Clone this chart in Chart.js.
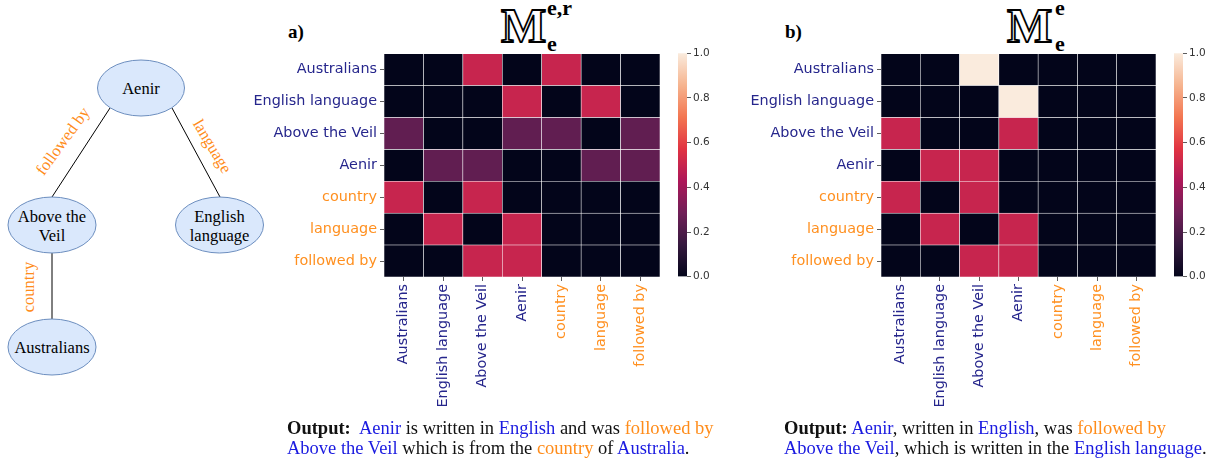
<!DOCTYPE html>
<html>
<head>
<meta charset="utf-8">
<script src="https://cdn.jsdelivr.net/npm/chart.js@4"></script>
<style>
  body { margin: 0; background: #fff; width: 1213px; height: 459px; position: relative; overflow: hidden; }
  canvas { position: absolute; }
  .serif { font-family: "Liberation Serif", "Times New Roman", serif; position: absolute; white-space: nowrap; }
  .lbl { font-weight: bold; font-size: 19px; line-height: 19px; }
  .bb { font-weight: bold; font-size: 48px; line-height: 48px; color: #fff; -webkit-text-stroke: 1.8px #000; }
  .idx { font-weight: bold; font-size: 22px; line-height: 22px; }
  .out { font-size: 18.5px; line-height: 20px; color: #111; }
  .b { color: #1a1ae0; }
  .o { color: #ff8c1a; }
</style>
</head>
<body>

<!-- knowledge graph sketch -->
<svg width="280" height="400" style="position:absolute;left:0;top:0" font-family="Liberation Serif, serif">
  <g stroke="#000" stroke-width="1">
    <line x1="110" y1="108" x2="52" y2="197"/>
    <line x1="172" y1="108" x2="220" y2="197"/>
    <line x1="52" y1="253" x2="52" y2="319"/>
  </g>
  <g fill="#dae8fc" stroke="#6c8ebf" stroke-width="1">
    <ellipse cx="141" cy="88" rx="43.5" ry="28"/>
    <ellipse cx="52" cy="225" rx="44" ry="28"/>
    <ellipse cx="219.5" cy="225" rx="44" ry="28"/>
    <ellipse cx="52" cy="347" rx="44" ry="28"/>
  </g>
  <g font-size="16.5" text-anchor="middle" fill="#000">
    <text x="141" y="94">Aenir</text>
    <text x="52" y="222">Above the</text>
    <text x="52" y="241">Veil</text>
    <text x="219.5" y="222">English</text>
    <text x="219.5" y="241">language</text>
    <text x="52" y="353">Australians</text>
  </g>
  <g font-size="16.5" text-anchor="middle" fill="#ff8c1a" dominant-baseline="middle">
    <text transform="translate(64,142) rotate(-54)">followed by</text>
    <text transform="translate(211,147) rotate(59)">language</text>
    <text transform="translate(30,287) rotate(-90)">country</text>
  </g>
</svg>

<!-- panel titles -->
<div class="serif lbl" style="left:288px;top:22px">a)</div>
<div class="serif bb" style="left:501px;top:2px">M</div>
<div class="serif idx" style="left:547px;top:-3px">e,r</div>
<div class="serif idx" style="left:547px;top:33px">e</div>

<div class="serif lbl" style="left:785px;top:22px">b)</div>
<div class="serif bb" style="left:1007px;top:2px">M</div>
<div class="serif idx" style="left:1055px;top:-3px">e</div>
<div class="serif idx" style="left:1055px;top:33px">e</div>

<canvas id="heatA" width="430" height="383" style="left:240px;top:42px"></canvas>
<canvas id="cbarA" width="50" height="240" style="left:678px;top:45px"></canvas>
<canvas id="heatB" width="426" height="383" style="left:740px;top:42px"></canvas>
<canvas id="cbarB" width="50" height="240" style="left:1174px;top:45px"></canvas>

<div class="serif out" style="left:287px;top:418px"><b>Output:</b>&nbsp; <span class="b">Aenir</span> is written in <span class="b">English</span> and was <span class="o">followed by</span><br><span class="b">Above the Veil</span> which is from the <span class="o">country</span> of <span class="b">Australia</span>.</div>
<div class="serif out" style="left:784px;top:418px"><b>Output:</b> <span class="b">Aenir</span>, written in <span class="b">English</span>, was <span class="o">followed by</span><br><span class="b">Above the Veil</span>, which is written in the <span class="b">English language</span>.</div>

<script>
// Matrix labels (same order on both axes); first four are entities, rest relations
const columns = ['Australians', 'English language', 'Above the Veil', 'Aenir', 'country', 'language', 'followed by'];
const rows = ['Australians', 'English language', 'Above the Veil', 'Aenir', 'country', 'language', 'followed by'];
const entityCount = 4;

// a) M_e^{e,r}, one row per entry of rows
const valuesA = [
    [0, 0, 0.5, 0, 0.5, 0, 0],
    [0, 0, 0, 0.5, 0, 0.5, 0],
    [0.25, 0, 0, 0.25, 0.25, 0, 0.25],
    [0, 0.25, 0.25, 0, 0, 0.25, 0.25],
    [0.5, 0, 0.5, 0, 0, 0, 0],
    [0, 0.5, 0, 0.5, 0, 0, 0],
    [0, 0, 0.5, 0.5, 0, 0, 0]
];

// b) M_e^e
const valuesB = [
    [0, 0, 1, 0, 0, 0, 0],
    [0, 0, 0, 1, 0, 0, 0],
    [0.5, 0, 0, 0.5, 0, 0, 0],
    [0, 0.5, 0.5, 0, 0, 0, 0],
    [0.5, 0, 0.5, 0, 0, 0, 0],
    [0, 0.5, 0, 0.5, 0, 0, 0],
    [0, 0, 0.5, 0.5, 0, 0, 0]
];

const cbarRange = [0, 1];
const cbarTicks = [0, 0.2, 0.4, 0.6, 0.8, 1.0];

const entityColor = '#26268c';
const relationColor = '#ff9020';

// seaborn "rocket" colormap, sampled stops
const rocketStops = [
    [0, '#03051a'], [1 / 7, '#35193e'], [2 / 7, '#701f57'], [3 / 7, '#ad1759'],
    [4 / 7, '#e13342'], [5 / 7, '#f37651'], [6 / 7, '#f6b48f'], [1, '#faebdd']
];

function hexToRgb(h) {
    return [parseInt(h.slice(1, 3), 16), parseInt(h.slice(3, 5), 16), parseInt(h.slice(5, 7), 16)];
}

function rocket(v) {
    for (let i = 1; i < rocketStops.length; i++) {
        const [p1, c1] = rocketStops[i];
        const [p0, c0] = rocketStops[i - 1];
        if (v <= p1) {
            const t = (v - p0) / (p1 - p0);
            const a = hexToRgb(c0), b = hexToRgb(c1);
            const c = a.map((x, k) => Math.round(x + (b[k] - x) * t));
            return `rgb(${c[0]}, ${c[1]}, ${c[2]})`;
        }
    }
    return rocketStops[rocketStops.length - 1][1];
}

Chart.defaults.font.family = "'DejaVu Sans', sans-serif";
Chart.defaults.animation = false;

const tickGrid = {
    display: true,
    drawOnChartArea: false,
    drawTicks: true,
    tickLength: 4,
    tickWidth: 0.8,
    color: '#333',
    offset: false
};

function labelColor(i) {
    return i < entityCount ? entityColor : relationColor;
}

// Heatmap as stacked bars: each cell is one unit tall, coloured by its value
function drawHeatmap(id, matrix, yWidth) {
    const datasets = rows.map((row, r) => ({
        label: row,
        data: columns.map(() => 1),
        backgroundColor: matrix[r].map(rocket),
        borderColor: 'rgba(255, 255, 255, 0.85)',
        borderWidth: 0.6,
        borderSkipped: false,
        barPercentage: 1,
        categoryPercentage: 1
    })).reverse();

    new Chart(document.getElementById(id), {
        type: 'bar',
        data: { labels: columns, datasets: datasets },
        options: {
            responsive: false,
            layout: { padding: { top: 8, right: 10, left: 0, bottom: 0 } },
            plugins: { legend: { display: false }, tooltip: { enabled: false } },
            scales: {
                x: {
                    stacked: true,
                    grid: tickGrid,
                    border: { display: false },
                    ticks: {
                        autoSkip: false,
                        minRotation: 90,
                        maxRotation: 90,
                        padding: 3,
                        font: { size: 14.4 },
                        color: ctx => labelColor(ctx.index)
                    },
                    afterFit: scale => { scale.height = 148; }
                },
                y: {
                    type: 'linear',
                    stacked: true,
                    min: 0,
                    max: rows.length,
                    grid: tickGrid,
                    border: { display: false },
                    afterBuildTicks: axis => {
                        axis.ticks = rows.map((_, i) => ({ value: i + 0.5 }));
                    },
                    ticks: {
                        padding: 3,
                        font: { size: 14.4 },
                        callback: value => rows[rows.length - 1 - Math.floor(value)],
                        color: ctx => labelColor(rows.length - 1 - ctx.index)
                    },
                    afterFit: scale => { scale.width = yWidth; }
                }
            }
        }
    });
}

// Colour bar: one floating bar spanning the value range, filled with the colormap
function drawColorbar(id) {
    new Chart(document.getElementById(id), {
        type: 'bar',
        data: {
            labels: [''],
            datasets: [{
                data: [cbarRange],
                backgroundColor: ctx => {
                    const area = ctx.chart.chartArea;
                    if (!area) return null;
                    const g = ctx.chart.ctx.createLinearGradient(0, area.bottom, 0, area.top);
                    rocketStops.forEach(([p, c]) => g.addColorStop(p, c));
                    return g;
                },
                borderWidth: 0,
                barPercentage: 1,
                categoryPercentage: 1
            }]
        },
        options: {
            responsive: false,
            layout: { padding: { top: 8, bottom: 8, left: 0, right: 0 } },
            plugins: { legend: { display: false }, tooltip: { enabled: false } },
            scales: {
                x: { display: false },
                y: {
                    position: 'right',
                    min: cbarRange[0],
                    max: cbarRange[1],
                    grid: { ...tickGrid, offset: false },
                    border: { display: false },
                    afterBuildTicks: axis => {
                        axis.ticks = cbarTicks.map(v => ({ value: v }));
                    },
                    ticks: {
                        padding: 2,
                        font: { size: 10.5 },
                        color: '#333',
                        callback: v => v.toFixed(1)
                    },
                    afterFit: scale => { scale.width = 41; }
                }
            }
        }
    });
}

drawHeatmap('heatA', valuesA, 144);
drawColorbar('cbarA');
drawHeatmap('heatB', valuesB, 141);
drawColorbar('cbarB');
</script>
</body>
</html>
